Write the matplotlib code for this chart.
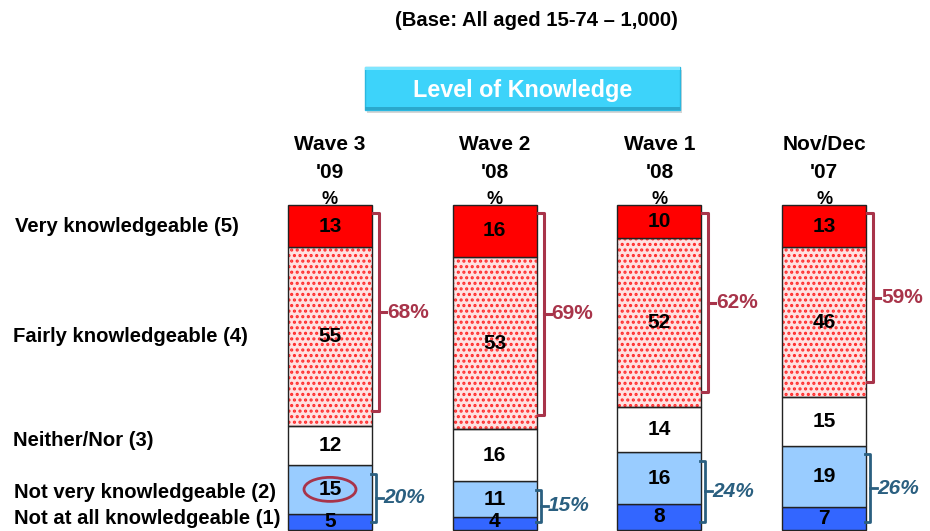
import matplotlib
matplotlib.use("Agg")
import matplotlib.pyplot as plt
from matplotlib.patches import Ellipse, Rectangle
import numpy as np

plt.rcParams['font.family'] = ['Liberation Sans', 'DejaVu Sans']
plt.rcParams['hatch.linewidth'] = 1.5

# Survey waves (columns, left to right)
wave_names = ["Wave 3", "Wave 2", "Wave 1", "Nov/Dec"]
wave_years = ["'09", "'08", "'08", "'07"]

# Response categories, stacked bottom to top
categories = ["Not at all knowledgeable (1)", "Not very knowledgeable (2)",
              "Neither/Nor (3)", "Fairly knowledgeable (4)", "Very knowledgeable (5)"]
not_at_all = [5, 4, 8, 7]
not_very = [15, 11, 16, 19]
neither = [12, 16, 14, 15]
fairly = [55, 53, 52, 46]
very = [13, 16, 10, 13]

# Net scores shown beside the brackets
net_knowledgeable = [68, 69, 62, 59]
net_not_knowledgeable = [20, 15, 24, 26]

title = "(Base: All aged 15-74 \u2013 1,000)"
button_label = "Level of Knowledge"

RED = "#FF0000"
LIGHT_BLUE = "#99CCFF"
DARK_BLUE = "#3366FF"
MAROON = "#A8344A"
STEEL = "#2A5F80"

W, H = 930, 531
fig = plt.figure(figsize=(W / 100, H / 100), dpi=100)
ax = fig.add_axes([0, 0, 1, 1])
ax.axis("off")

# Horizontal: columns at unit spacing; vertical: percentage stacked scale
px_per_col = 164.7
px_per_pct = 3.25
x0_px, base_px = 330, 530
ax.set_xlim(-x0_px / px_per_col, (W - x0_px) / px_per_col)
ax.set_ylim(-(H - base_px) / px_per_pct, base_px / px_per_pct)

x = np.arange(len(wave_names))
bw = 84 / px_per_col
dx = 1 / px_per_col  # one pixel in x data units
dy = 1 / px_per_pct  # one pixel in y data units

series = [not_at_all, not_very, neither, fairly, very]
bottom = np.zeros(len(x))
for k, vals in enumerate(series):
    vals = np.array(vals, dtype=float)
    if k == 3:
        ax.bar(x, vals, bw, bottom=bottom, color="#FFE2E2", edgecolor="#FF2A2A",
               hatch="...", linewidth=0, zorder=2)
        ax.bar(x, vals, bw, bottom=bottom, fill=False, edgecolor="#222222",
               linewidth=1.0, zorder=3)
    else:
        face = [DARK_BLUE, LIGHT_BLUE, "white", None, RED][k]
        ax.bar(x, vals, bw, bottom=bottom, color=face, edgecolor="#222222",
               linewidth=1.0, zorder=3)
    for xi, b, v in zip(x, bottom, vals):
        # keep labels of thin segments clear of the bottom edge
        yl = max(b + v / 2, 8.5 * dy)
        ax.text(xi, yl, f"{int(v)}", ha="center", va="center",
                fontsize=15, fontweight="bold", color="black", zorder=5)
    bottom += vals

top = bottom

# Brackets for the net scores
for xi, t, net in zip(x, top, net_knowledgeable):
    right = xi + bw / 2
    y_top = t - 2.5
    y_bot = t - net + 4.5
    xv = right + 7 * dx
    ax.plot([right + 1 * dx, xv, xv, right + 1 * dx], [y_top, y_top, y_bot, y_bot],
            color=MAROON, lw=2.2, solid_joinstyle="round", zorder=4)
    ym = (y_top + y_bot) / 2
    ax.plot([xv, xv + 7 * dx], [ym, ym], color=MAROON, lw=2.2, zorder=4)
    ax.text(right + 15 * dx, ym, f"{net}%", ha="left", va="center",
            fontsize=15, fontweight="bold", color=MAROON)

for xi, net in zip(x, net_not_knowledgeable):
    right = xi + bw / 2
    y_top = net - 2.7
    y_bot = 2.5
    xv = right + 4 * dx
    ax.plot([right - 1 * dx, xv, xv, right - 1 * dx], [y_top, y_top, y_bot, y_bot],
            color=STEEL, lw=2.0, solid_joinstyle="round", zorder=4)
    ym = (y_top + y_bot) / 2
    ax.plot([xv, xv + 7 * dx], [ym, ym], color=STEEL, lw=2.0, zorder=4)
    ax.text(right + 11 * dx, ym, f"{net}%", ha="left", va="center",
            fontsize=15, fontweight="bold", fontstyle="italic", color=STEEL)

# Highlight on the latest "not very knowledgeable" score
ax.add_patch(Ellipse((x[0], not_at_all[0] + not_very[0] / 2), 52 * dx, 24 * dy,
                     fill=False, edgecolor=MAROON, lw=2.0, zorder=6))

# Column headers
for xi, name, yr in zip(x, wave_names, wave_years):
    ax.text(xi, (base_px - 145) * dy, name, ha="center", va="center",
            fontsize=15, fontweight="bold")
    ax.text(xi, (base_px - 172) * dy, yr, ha="center", va="center",
            fontsize=15, fontweight="bold")
    ax.text(xi, (base_px - 199) * dy, "%", ha="center", va="center",
            fontsize=13, fontweight="bold", zorder=1)

# Row labels
row_label_px = [(14, 518), (14, 492), (13, 441), (13, 336), (15, 227)]
for lab, (lx, ly) in zip(categories, row_label_px):
    fig.text(lx / W, 1 - ly / H, lab, ha="left", va="center",
             fontsize=14.6, fontweight="bold")

# Title
fig.text(536 / W, 1 - 20 / H, title, ha="center", va="center",
         fontsize=14.6, fontweight="bold")

# Section button with drop shadow
bx0, bx1, by0, by1 = 365, 680, 67, 110
fig.patches.append(Rectangle((bx0 / W + 2 / W, 1 - (by1 + 3) / H), (bx1 - bx0) / W,
                             (by1 - by0) / H, transform=fig.transFigure,
                             facecolor="#BBBBBB", edgecolor="none", alpha=0.6))
fig.patches.append(Rectangle((bx0 / W, 1 - by1 / H), (bx1 - bx0) / W,
                             (by1 - by0) / H, transform=fig.transFigure,
                             facecolor="#3DD3FA", edgecolor="#2AB8E0", lw=1.0))
fig.patches.append(Rectangle((bx0 / W, 1 - (by0 + 3) / H), (bx1 - bx0) / W,
                             3 / H, transform=fig.transFigure,
                             facecolor="#7FE6FF", edgecolor="none"))
fig.patches.append(Rectangle((bx0 / W, 1 - by1 / H), (bx1 - bx0) / W,
                             3 / H, transform=fig.transFigure,
                             facecolor="#2AA8CC", edgecolor="none"))
fig.text((bx0 + bx1) / 2 / W, 1 - 90 / H, button_label, ha="center", va="center",
         fontsize=16.8, fontweight="bold", color="white")

fig.savefig("out.png", dpi=100, facecolor="white")
